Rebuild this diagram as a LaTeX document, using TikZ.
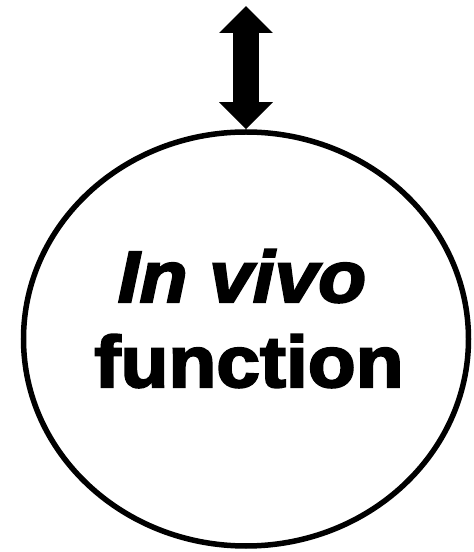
\documentclass[tikz,border=0pt]{standalone}
\usepackage{fontspec}
\newfontfamily\vivofont[FakeStretch=1.08,FakeBold=3]{Liberation Sans}
\usetikzlibrary{arrows.meta,positioning,shapes.geometric}

\begin{document}
\begin{tikzpicture}[x=1pt,y=1pt,
   ring/.style={draw,ellipse,line width=5.5pt,minimum width=445pt,minimum height=414pt,inner sep=0pt},
   word/.style={font=\vivofont\bfseries\fontsize{72.6}{85}\selectfont,inner sep=0pt,anchor=base},
   dblarrow/.style={line width=26pt,{Triangle[length=27pt,width=52pt]}-{Triangle[length=27pt,width=52pt]}}]
  \useasboundingbox (0,0) rectangle (474,552);
  \node[ring] (vivo) at (246,213) {};
  \node[word] (invivo) at (242,250) {\itshape In vivo};
  \node[word] (func) at (249,165) {function};
  \coordinate (top) at (246,546);
  \draw[dblarrow] (top) -- (vivo.north);
\end{tikzpicture}
\end{document}
